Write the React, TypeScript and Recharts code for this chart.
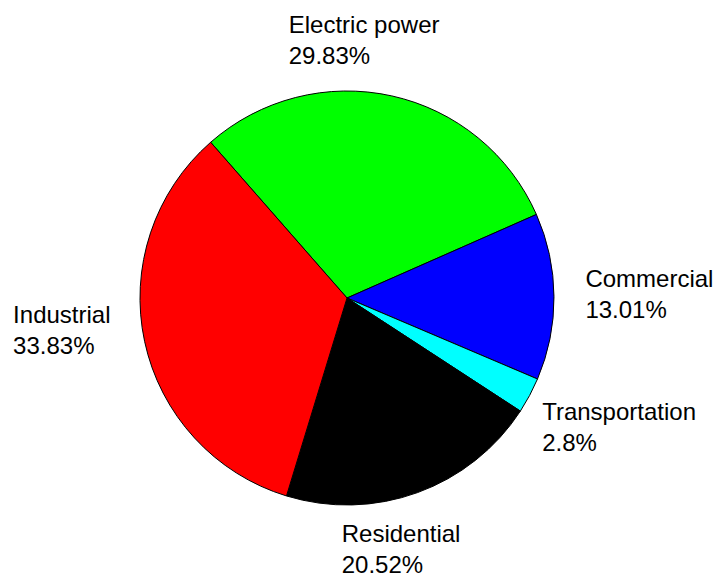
import { PieChart, Pie, Cell } from "recharts";

const SECTORS = ["Electric power", "Commercial", "Transportation", "Residential", "Industrial"];
const SHARES = [29.83, 13.01, 2.8, 20.52, 33.83];
const SHARE_LABELS = ["29.83%", "13.01%", "2.8%", "20.52%", "33.83%"];
const COLORS = ["#00FF00", "#0000FF", "#00FFFF", "#000000", "#FF0000"];

// nudges from the 1.2R anchor to where the original placed each text block
const LABEL_NUDGE: [number, number][] = [
  [-112, -22],
  [-10, -9],
  [-24, 5],
  [-90, 10],
  [-91, -27],
];

const START = 131.2;
const RAD = Math.PI / 180;

const data = SECTORS.map((name, i) => ({ name, value: SHARES[i], pct: SHARE_LABELS[i] }));

function renderLabel(props: any) {
  const { cx, cy, midAngle, outerRadius, index } = props;
  const r = outerRadius * 1.2;
  const ax = cx + r * Math.cos(-midAngle * RAD);
  const ay = cy + r * Math.sin(-midAngle * RAD);
  const [dx, dy] = LABEL_NUDGE[index];
  const x = ax + dx;
  const y = ay + dy;
  return (
    <text
      x={x}
      y={y}
      fill="#000"
      textAnchor="start"
      style={{ fontFamily: "'Liberation Sans', Arial, sans-serif", fontSize: 24 }}
    >
      <tspan x={x} y={y}>{data[index].name}</tspan>
      <tspan x={x} y={y + 31}>{data[index].pct}</tspan>
    </text>
  );
}

export default function App() {
  return (
    <>
      <style>{`body { margin: 0; background: #fff; }`}</style>
      <PieChart width={721} height={573} margin={{ top: 0, right: 0, bottom: 0, left: 0 }}>
        <Pie
          data={data}
          dataKey="value"
          nameKey="name"
          cx={347}
          cy={298}
          outerRadius={207}
          startAngle={START}
          endAngle={START - 360}
          stroke="#000"
          strokeWidth={1}
          label={renderLabel}
          labelLine={false}
          isAnimationActive={false}
        >
          {data.map((d, i) => (
            <Cell key={d.name} fill={COLORS[i]} />
          ))}
        </Pie>
      </PieChart>
    </>
  );
}
